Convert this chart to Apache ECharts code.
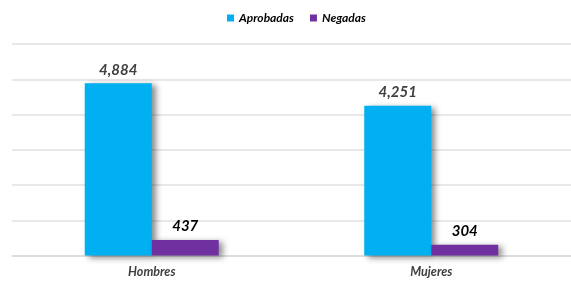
<!DOCTYPE html>
<html>
<head>
<meta charset="utf-8">
<script src="https://cdn.jsdelivr.net/npm/echarts@6/dist/echarts.min.js"></script>
<style>
html,body{margin:0;padding:0;background:#fff;}
#main{width:571px;height:286px;}
</style>
</head>
<body>
<div id="main"></div>
<script>
const categories = ["Hombres", "Mujeres"];
const aprobadas = [4884, 4251];
const negadas = [437, 304];

let myCharts = echarts.init(document.getElementById("main"), null, {renderer: "canvas"});
const fmt = p => p.value.toLocaleString("en-US");
const labelStyle = {
	show: true,
	position: "top",
	distance: 6,
	fontFamily: "Lato",
	fontSize: 15,
	fontWeight: "bold",
	fontStyle: "italic",
	formatter: fmt,
};
const shadow = {shadowColor: "rgba(0,0,0,0.45)", shadowBlur: 6, shadowOffsetX: 4, shadowOffsetY: 2};
let option = {
	animation: false,
	legend: {
		top: 7,
		left: 222,
		itemWidth: 7,
		itemHeight: 7,
		itemGap: 16,
		icon: "rect",
		textStyle: {fontFamily: "Lato", fontSize: 12, fontWeight: "bold", fontStyle: "italic", color: "#000"},
		data: ["Aprobadas", "Negadas"],
	},
	grid: {left: 12, right: 0, top: 44, bottom: 30.5},
	xAxis: {
		type: "category",
		data: categories,
		axisTick: {show: false},
		axisLine: {lineStyle: {color: "#d9d9d9", width: 1.5}},
		axisLabel: {fontFamily: "Lato", fontSize: 12.5, fontWeight: "bold", fontStyle: "italic", color: "#404040", margin: 10},
	},
	yAxis: {
		type: "value",
		min: 0,
		max: 6000,
		interval: 1000,
		axisLabel: {show: false},
		splitLine: {lineStyle: {color: "#e0e0e0", width: 1.5}},
	},
	series: [
		{
			name: "Aprobadas",
			type: "bar",
			data: aprobadas,
			barWidth: 67,
			barGap: "0%",
			itemStyle: Object.assign({color: "#00B0F0"}, shadow),
			label: Object.assign({color: "#404040"}, labelStyle),
		},
		{
			name: "Negadas",
			type: "bar",
			data: negadas,
			barWidth: 67,
			itemStyle: Object.assign({color: "#7030A0"}, shadow),
			label: Object.assign({color: "#000"}, labelStyle),
		},
	],
};
myCharts.setOption(option);
</script>
</body>
</html>
